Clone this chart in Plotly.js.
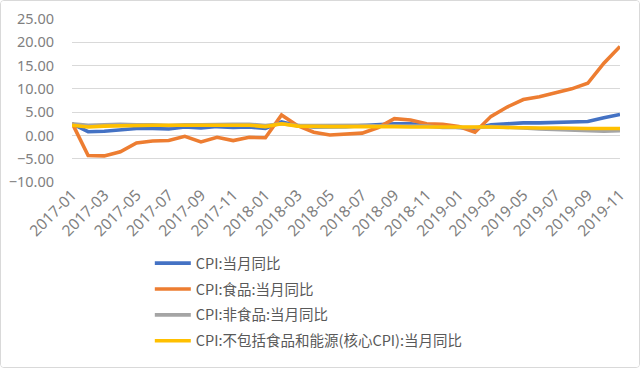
<!DOCTYPE html>
<html>
<head>
<meta charset="utf-8">
<script src="https://cdn.plot.ly/plotly-3.0.1.min.js"></script>
<style>
html,body{margin:0;padding:0;background:#fff;}
#wrap{width:638px;height:366px;border:1px solid #d9d9d9;border-radius:4px;overflow:hidden;}
#chart{width:638px;height:366px;}
</style>
</head>
<body>
<div id="wrap"><div id="chart"></div></div>
<script>
const months = [
 "2017-01","2017-02","2017-03","2017-04","2017-05","2017-06","2017-07","2017-08","2017-09","2017-10","2017-11","2017-12",
 "2018-01","2018-02","2018-03","2018-04","2018-05","2018-06","2018-07","2018-08","2018-09","2018-10","2018-11","2018-12",
 "2019-01","2019-02","2019-03","2019-04","2019-05","2019-06","2019-07","2019-08","2019-09","2019-10","2019-11"];
const cpi = [2.5,0.8,0.9,1.2,1.5,1.5,1.4,1.8,1.6,1.9,1.7,1.8,
 1.5,2.9,2.1,1.8,1.8,1.9,2.1,2.3,2.5,2.5,2.2,1.9,
 1.7,1.5,2.3,2.5,2.7,2.7,2.8,2.8,3.0,3.8,4.5];
const food = [2.7,-4.3,-4.4,-3.5,-1.6,-1.2,-1.1,-0.2,-1.4,-0.4,-1.1,-0.4,
 -0.5,4.4,2.1,0.7,0.1,0.3,0.5,1.7,3.6,3.3,2.5,2.4,
 1.9,0.7,4.1,6.1,7.7,8.3,9.1,10.0,11.2,15.5,19.1];
const nonFood = [2.5,2.2,2.3,2.4,2.3,2.3,2.1,2.3,2.3,2.4,2.4,2.4,
 2.1,2.5,2.1,2.1,2.1,2.2,2.2,2.0,2.0,2.0,2.0,1.7,
 1.7,1.7,1.9,1.8,1.6,1.4,1.3,1.1,1.0,0.9,1.0];
const core = [2.2,1.8,2.0,2.1,2.1,2.2,2.2,2.2,2.3,2.3,2.3,2.2,
 1.9,2.5,2.0,1.9,1.9,1.9,1.9,2.0,1.9,1.8,1.8,1.8,
 1.9,1.8,1.8,1.7,1.6,1.6,1.6,1.5,1.5,1.5,1.5];
const names = ["CPI:当月同比","CPI:食品:当月同比","CPI:非食品:当月同比","CPI:不包括食品和能源(核心CPI):当月同比"];
const colors = ["#4472C4","#ED7D31","#A5A5A5","#FFC000"];
const series = [cpi, food, nonFood, core];
const tickVals = months.filter((m,i)=>i%2===0);

const traces = series.map((s,i)=>({
  x: months, y: s, type:"scatter", mode:"lines", name: names[i],
  legendgroup: "g"+i,
  line:{color:colors[i], width:3.6}
}));

const layout = {
  width:638, height:366,
  margin:{l:71, r:19, t:18, b:185, autoexpand:false},
  paper_bgcolor:"#fff", plot_bgcolor:"#fff",
  font:{family:"Noto Sans, Noto Sans CJK SC, sans-serif", color:"#595959"},
  showlegend:true,
  legend:{x:0.142, y:-0.40, xanchor:"left", yanchor:"top", orientation:"v",
    font:{size:14.5, color:"#595959", family:"Noto Sans CJK SC, sans-serif"},
    tracegroupgap:4, itemwidth:36, bgcolor:"rgba(0,0,0,0)"},
  xaxis:{type:"category", tickmode:"array", tickvals:tickVals, ticktext:tickVals,
    tickangle:-45, tickfont:{size:15.5, color:"#7f7f7f"}, showgrid:false, automargin:false,
    showline:false, ticks:"", zeroline:false},
  yaxis:{range:[-10,25], dtick:5, tickformat:".2f", tickfont:{size:14.5, color:"#7f7f7f"},
    ticks:"outside", ticklen:14, tickcolor:"rgba(0,0,0,0)",
    gridcolor:"#d9d9d9", gridwidth:1, zeroline:false, showline:false, automargin:false}
};
Plotly.newPlot("chart", traces, layout, {displayModeBar:false, staticPlot:true});
</script>
</body>
</html>
